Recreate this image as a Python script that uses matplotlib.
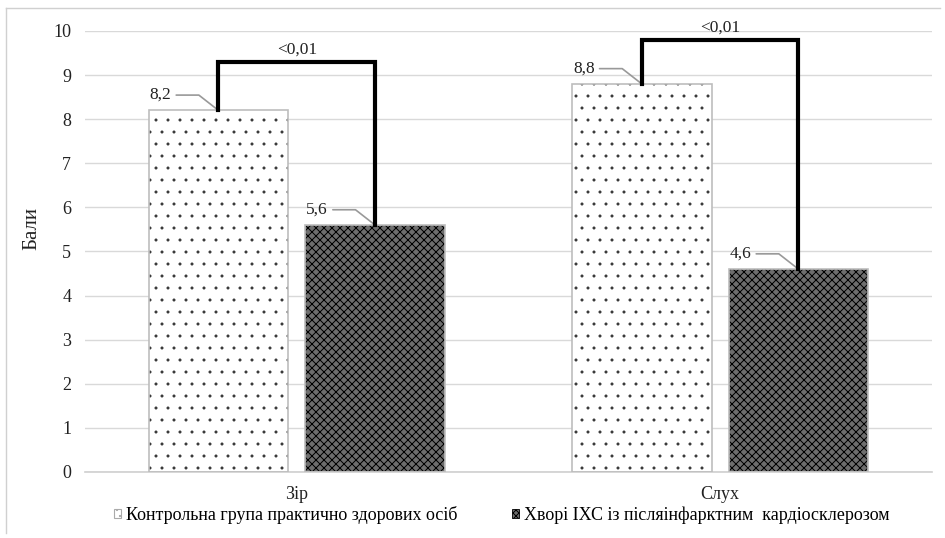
import matplotlib.pyplot as plt
from matplotlib import font_manager as fm
import numpy as np

serif_names = sorted({f.name for f in fm.fontManager.ttflist if 'Serif' in f.name and 'Liberation' in f.name})
serif = serif_names[0] if serif_names else 'DejaVu Serif'
plt.rcParams['font.family'] = [serif, 'DejaVu Serif']

categories = ["Зір", "Слух"]
series_names = ["Контрольна група практично здорових осіб",
                "Хворі ІХС із післяінфарктним  кардіосклерозом"]
control = [8.2, 8.8]
patients = [5.6, 4.6]
value_labels_c = ["8,2", "8,8"]
value_labels_p = ["5,6", "4,6"]
p_text = ["<0,01", "<0,01"]
bracket_top = [9.3, 9.8]
yticks = list(range(0, 11))

DPI = 72
S = 100 / DPI  # sizes below are given as if at 100 dpi


def paint():
    fig = plt.figure(figsize=(945 / DPI, 538 / DPI), dpi=DPI)
    ax = fig.add_axes([0.09, 0.1227, 0.896, 0.8197])
    x = np.arange(len(categories))
    w = 0.33
    off = 0.185

    # control: sparse dots
    plt.rcParams['hatch.linewidth'] = 0.5
    ax.bar(x - off, control, w, facecolor='white', edgecolor='#333333',
           hatch='.', linewidth=0, zorder=2)
    h1 = plt.Rectangle((0, 0), 1, 1, facecolor='white', edgecolor='#aaaaaa',
                       hatch='..', linewidth=0.8 * S)
    plt.rcParams['hatch.linewidth'] = 1.0
    ax.bar(x - off, control, w, facecolor='none', edgecolor='#bdbdbd',
           linewidth=1.2 * S, zorder=3)
    # patients: dense dark checkered
    ax.bar(x + off, patients, w, facecolor='#6e6e6e', edgecolor='black',
           hatch='xxx', linewidth=0, zorder=2)
    ax.bar(x + off, patients, w, facecolor='none', edgecolor='#bdbdbd',
           linewidth=1.2 * S, zorder=3)
    h2 = plt.Rectangle((0, 0), 1, 1, facecolor='#6e6e6e', edgecolor='black',
                       hatch='xxxx', linewidth=0.6 * S)

    fig.legend([h1, h2], series_names, loc='center', bbox_to_anchor=(0.531, 0.043),
               ncol=2, frameon=False, fontsize=13 * S, handlelength=0.4,
               handleheight=0.4, handletextpad=0.3, columnspacing=3.0)

    # value labels with leader lines
    for xs, vals, labs in [(x - off, control, value_labels_c),
                           (x + off, patients, value_labels_p)]:
        for xi, v, lab in zip(xs, vals, labs):
            ax.annotate(lab, xy=(xi, v), xytext=(-34 * S, 11 * S), textcoords='offset points',
                        ha='right', va='center', fontsize=12.5 * S, color='#222222',
                        arrowprops=dict(arrowstyle='-', color='#999999', lw=1.2 * S,
                                        shrinkA=3, shrinkB=0, relpos=(1, 0.5),
                                        connectionstyle='angle,angleA=0,angleB=142,rad=0'),
                        zorder=5)

    # significance brackets
    for i in range(len(categories)):
        xl, xr = x[i] - off, x[i] + off
        ax.plot([xl, xl, xr, xr], [control[i], bracket_top[i], bracket_top[i], patients[i]],
                color='black', lw=3 * S, solid_joinstyle='miter', zorder=6)
        ax.text(x[i], bracket_top[i] + 0.1, p_text[i], ha='center', va='bottom',
                fontsize=12.5 * S, color='#222222')

    ax.set_xlim(-0.5, 1.5)
    ax.set_ylim(0, 10)
    ax.set_yticks(yticks)
    ax.set_xticks(x)
    ax.set_xticklabels(categories)
    ax.tick_params(axis='both', length=0, labelsize=13 * S, colors='#222222')
    ax.tick_params(axis='y', pad=10 * S)
    ax.tick_params(axis='x', pad=10 * S)
    ax.grid(axis='y', color='#d9d9d9', lw=1 * S, zorder=0)
    ax.set_axisbelow(True)
    for s in ['top', 'right', 'left']:
        ax.spines[s].set_visible(False)
    ax.spines['bottom'].set_color('#cfcfcf')
    ax.spines['bottom'].set_linewidth(1.2 * S)
    ax.set_ylabel("Бали", fontsize=15 * S, color='#222222')
    ax.yaxis.set_label_coords(-0.051, 0.553)

    # outer chart border
    fig.add_artist(plt.Line2D([0.006, 0.006], [0.01, 0.985], color='#d0d0d0', lw=1 * S,
                              transform=fig.transFigure))
    fig.add_artist(plt.Line2D([0.006, 0.995], [0.985, 0.985], color='#d0d0d0', lw=1 * S,
                              transform=fig.transFigure))

    fig.savefig('out.png', dpi=DPI, facecolor='white')


if __name__ == '__main__':
    paint()
